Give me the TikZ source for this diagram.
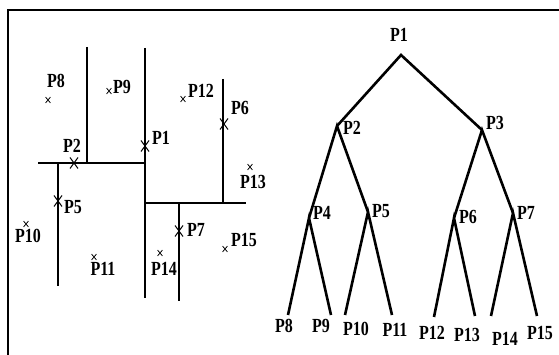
\documentclass[tikz,border=0pt]{standalone}
\usepackage{fontspec}
\setmainfont{Liberation Serif}
\usetikzlibrary{shapes.misc}
\newcommand{\pl}[1]{\scalebox{0.8}[1]{\bfseries #1}}
\begin{document}
\begin{tikzpicture}[x=1pt,y=-1pt,
  wall/.style={line width=2.6pt},
  edge/.style={line width=2.6pt},
  frame/.style={line width=2pt},
  lbl/.style={inner sep=0pt,font=\fontsize{20}{20}\selectfont},
  mk/.style={cross out,draw,line width=0.8pt,inner sep=0pt,minimum width=4pt,minimum height=5pt},
  bigmk/.style={cross out,draw,line width=1pt,inner sep=0pt,minimum width=7pt,minimum height=10pt}]
\useasboundingbox (0,0) rectangle (559,355);
% frame
\coordinate (f1) at (8,355);
\coordinate (f2) at (8,10);
\coordinate (f3) at (559,10);
\draw[frame] (f1) -- (f2) -- (f3);
% ---- left: partition ----
\coordinate (a1) at (87,47);  \coordinate (a2) at (87,163);
\coordinate (b1) at (145,48); \coordinate (b2) at (145,298);
\coordinate (c1) at (38,163); \coordinate (c2) at (145,163);
\coordinate (d1) at (58,163); \coordinate (d2) at (58,286);
\coordinate (e1) at (145,203);\coordinate (e2) at (246,203);
\coordinate (g1) at (223,79); \coordinate (g2) at (223,203);
\coordinate (h1) at (179,203);\coordinate (h2) at (179,301);
\draw[wall] (a1) -- (a2);
\draw[wall] (b1) -- (b2);
\draw[wall] (c1) -- (c2);
\draw[wall] (d1) -- (d2);
\draw[wall] (e1) -- (e2);
\draw[wall] (g1) -- (g2);
\draw[wall] (h1) -- (h2);
% points
\node[bigmk] (m1) at (145,146) {};
\node[bigmk] (m2) at (74,163) {};
\node[bigmk] (m5) at (58,201) {};
\node[bigmk] (m6) at (224,124) {};
\node[bigmk] (m7) at (179,231) {};
\node[mk] (m8) at (48,100) {};
\node[mk] (m9) at (109,91) {};
\node[mk] (m10) at (26,224) {};
\node[mk] (m11) at (94,257) {};
\node[mk] (m12) at (183,99) {};
\node[mk] (m13) at (250,167) {};
\node[mk] (m14) at (160,253) {};
\node[mk] (m15) at (225,249) {};
\node[lbl] (l1) at (161,138) {\pl{P1}};
\node[lbl] (l2) at (72,146) {\pl{P2}};
\node[lbl] (l5) at (73,207) {\pl{P5}};
\node[lbl] (l6) at (240,108) {\pl{P6}};
\node[lbl] (l7) at (196,230) {\pl{P7}};
\node[lbl] (l8) at (56,81) {\pl{P8}};
\node[lbl] (l9) at (122,87) {\pl{P9}};
\node[lbl] (l10) at (28,236) {\pl{P10}};
\node[lbl] (l11) at (103,269) {\pl{P11}};
\node[lbl] (l12) at (201,91) {\pl{P12}};
\node[lbl] (l13) at (253,182) {\pl{P13}};
\node[lbl] (l14) at (164,269) {\pl{P14}};
\node[lbl] (l15) at (244,240) {\pl{P15}};
% ---- right: tree ----
\coordinate (t1) at (401,55);
\coordinate (t2) at (337,126);
\coordinate (t3) at (482,130);
\coordinate (t4) at (309,218);
\coordinate (t5) at (368,212);
\coordinate (t6) at (454,218);
\coordinate (t7) at (513,213);
\coordinate (t8) at (288,315);
\coordinate (t9) at (331,315);
\coordinate (t10) at (345,315);
\coordinate (t11) at (392,315);
\coordinate (t12) at (434,317);
\coordinate (t13) at (475,316);
\coordinate (t14) at (491,316);
\coordinate (t15) at (537,316);
\draw[edge] (t2) -- (t1) -- (t3);
\draw[edge] (t4) -- (t2) -- (t5);
\draw[edge] (t6) -- (t3) -- (t7);
\draw[edge] (t8) -- (t4) -- (t9);
\draw[edge] (t10) -- (t5) -- (t11);
\draw[edge] (t12) -- (t6) -- (t13);
\draw[edge] (t14) -- (t7) -- (t15);
\node[lbl] (n1) at (399,35) {\pl{P1}};
\node[lbl] (n2) at (352,128) {\pl{P2}};
\node[lbl] (n3) at (495,123) {\pl{P3}};
\node[lbl] (n4) at (322,213) {\pl{P4}};
\node[lbl] (n5) at (381,211) {\pl{P5}};
\node[lbl] (n6) at (468,217) {\pl{P6}};
\node[lbl] (n7) at (526,213) {\pl{P7}};
\node[lbl] (n8) at (284,326) {\pl{P8}};
\node[lbl] (n9) at (321,326) {\pl{P9}};
\node[lbl] (n10) at (356,329) {\pl{P10}};
\node[lbl] (n11) at (395,330) {\pl{P11}};
\node[lbl] (n12) at (432,333) {\pl{P12}};
\node[lbl] (n13) at (467,335) {\pl{P13}};
\node[lbl] (n14) at (505,339) {\pl{P14}};
\node[lbl] (n15) at (540,333) {\pl{P15}};
\end{tikzpicture}
\end{document}
